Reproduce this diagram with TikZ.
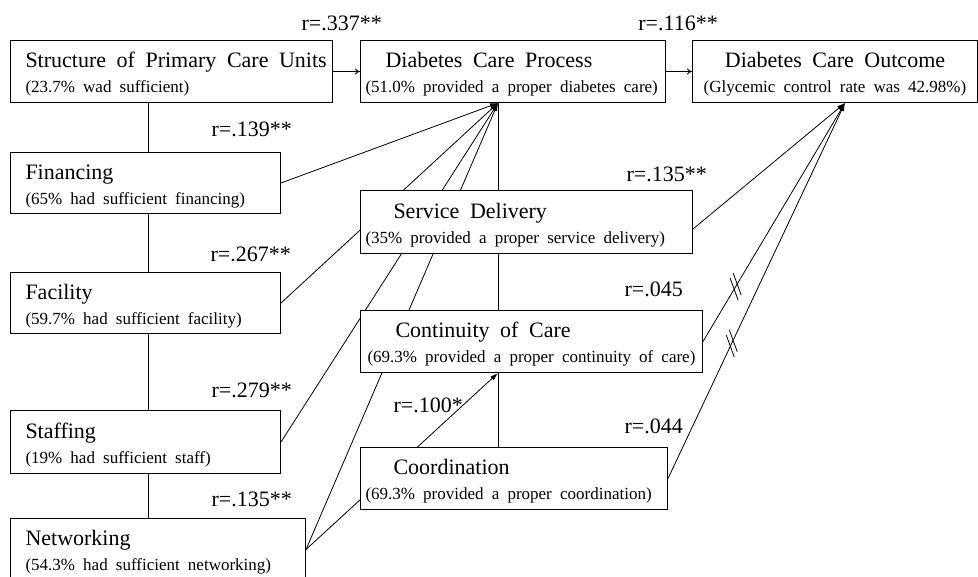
\documentclass[tikz,border=0pt]{standalone}
\usepackage{fontspec}
\setmainfont{Liberation Serif}
\usetikzlibrary{positioning,calc,arrows.meta,backgrounds}

\newcommand{\boxtitle}[2][0pt]{\hspace*{#1}{\fontsize{22}{25}\selectfont\spaceskip=0.48em\relax\rule{0pt}{21pt}#2}}
\newcommand{\boxnote}[2][0pt]{\hspace*{#1}{\spaceskip=0.48em\relax #2}}

\begin{document}
\begin{tikzpicture}[x=1pt,y=-1pt,
    unit/.style={rectangle,draw,fill=white,line width=1pt,anchor=north west,
      inner xsep=0pt,inner ysep=0pt,minimum height=62pt,align=left,
      font=\fontsize{17}{25}\selectfont},
    coef/.style={anchor=base east,inner sep=0pt,font=\fontsize{22}{25}\selectfont},
    link/.style={line width=0.8pt,-{To[length=5pt,width=6pt]}},
    conv/.style={line width=0.8pt,-{Latex[length=8pt,width=5pt]}},
    plain/.style={line width=0.8pt}]

\useasboundingbox (0,0) rectangle (978,577);
\clip (0,0) rectangle (978,577);

% structure and its parts
\node[unit,text width=322pt,minimum height=62pt] (struct) at (10,40)
  {\boxtitle[15pt]{Structure of Primary Care Units}\\\boxnote[15pt]{(23.7\% wad sufficient)}};
\node[unit,text width=270pt,minimum height=61pt] (fin) at (10,152)
  {\boxtitle[15pt]{Financing}\\\boxnote[15pt]{(65\% had sufficient financing)}};
\node[unit,text width=270pt,minimum height=61pt] (fac) at (10,272)
  {\boxtitle[15pt]{Facility}\\\boxnote[15pt]{(59.7\% had sufficient facility)}};
\node[unit,text width=270pt,minimum height=63pt] (staff) at (10,410)
  {\boxtitle[15pt]{Staffing}\\\boxnote[15pt]{(19\% had sufficient staff)}};
\node[unit,text width=295pt] (net) at (10,518)
  {\boxtitle[15pt]{Networking}\\\boxnote[15pt]{(54.3\% had sufficient networking)}};

% process and its parts
\node[unit,text width=305pt] (dcp) at (360,40)
  {\boxtitle[25pt]{Diabetes Care Process}\\\boxnote[5pt]{(51.0\% provided a proper diabetes care)}};
\node[unit,text width=332pt,minimum height=63pt] (sd) at (360,190)
  {\boxtitle[33pt]{Service Delivery}\\\boxnote[5pt]{(35\% provided a proper service delivery)}};
\node[unit,text width=342pt] (cont) at (360,310)
  {\boxtitle[35pt]{Continuity of Care}\\\boxnote[7pt]{(69.3\% provided a proper continuity of care)}};
\node[unit,text width=307pt] (coord) at (360,447)
  {\boxtitle[33pt]{Coordination}\\\boxnote[5pt]{(69.3\% provided a proper coordination)}};

% outcome
\node[unit,text width=285pt,align=center] (dco) at (692,40)
  {\boxtitle{Diabetes Care Outcome}\\\boxnote{(Glycemic control rate was 42.98\%)}};

\coordinate (spine) at (148,0);
\coordinate (hub) at (498,0);
\coordinate (outhub) at (845,0);

% correlations
\node[coef] (r337) at (382,31) {r=.337**};
\node[coef] (r116) at (718,31) {r=.116**};
\node[coef] (r139) at (292,137) {r=.139**};
\node[coef] (r267) at (291,262) {r=.267**};
\node[coef] (r279) at (292,398) {r=.279**};
\node[coef] (r135a) at (292,506) {r=.135**};
\node[coef] (r135b) at (707,182) {r=.135**};
\node[coef] (r045) at (683,297) {r=.045};
\node[coef] (r044) at (683,433) {r=.044};
\node[coef] (r100) at (463,413) {r=.100*};

\begin{scope}[on background layer]
\draw[plain] (struct.south -| spine) -- (net.north -| spine);
\draw[plain] (coord.north -| hub) -- (dcp.south -| hub);
\draw[link] (struct.east) -- (dcp.west);
\draw[link] (dcp.east) -- (dco.west);
\draw[conv] (fin.east) -- (dcp.south -| hub);
\draw[conv] (fac.east) -- (dcp.south -| hub);
\draw[conv] (staff.east) -- (dcp.south -| hub);
\draw[conv] (net.east) -- (dcp.south -| hub);
\draw[conv] (net.east) -- (cont.south -| hub);
\draw[conv] ([yshift=-7pt]sd.east) -- (dco.south -| outhub);
\draw[conv] (cont.east) -- (dco.south -| outhub);
\draw[conv] (coord.east) -- (dco.south -| outhub);
\end{scope}

% not significant
\path (cont.east) -- (dco.south -| outhub) coordinate[pos=0.23] (cut1);
\path (coord.east) -- (dco.south -| outhub) coordinate[pos=0.36] (cut2);
\foreach \c in {cut1,cut2}
  \foreach \s in {-1,1}
    \draw[line width=0.8pt] ($(\c)+({1.5*\s-4},{-2.6*\s-11})$) -- ($(\c)+({1.5*\s+4},{-2.6*\s+11})$);
\end{tikzpicture}
\end{document}
